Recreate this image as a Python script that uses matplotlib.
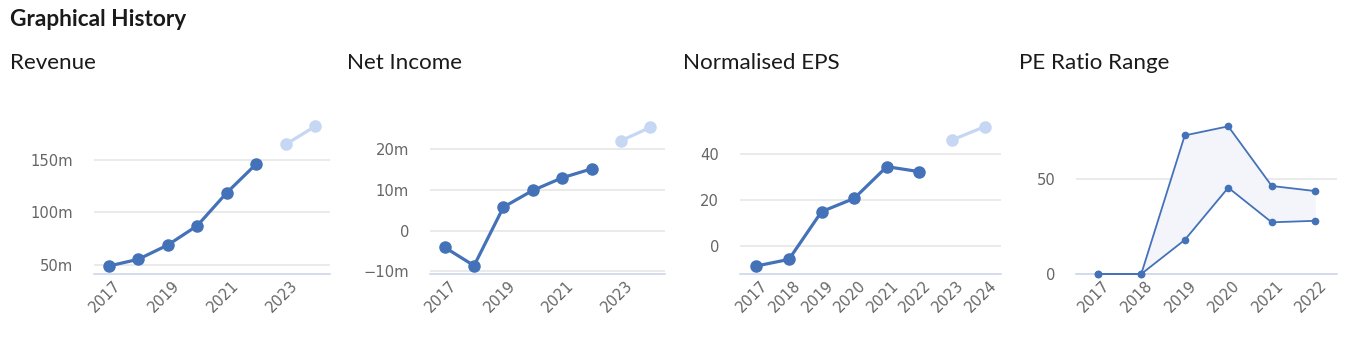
import matplotlib
matplotlib.use("Agg")
import matplotlib.pyplot as plt
from matplotlib.ticker import FuncFormatter
import matplotlib.transforms as mtransforms

# ---------------- data ----------------
years = [2017, 2018, 2019, 2020, 2021, 2022, 2023, 2024]
actual_years = [2017, 2018, 2019, 2020, 2021, 2022]
forecast_years = [2023, 2024]

revenue_actual = [49.0, 55.4, 69.0, 87.4, 118.8, 146.2]
revenue_forecast = [164.9, 182.1]

netincome_actual = [-4.1, -8.6, 5.8, 9.9, 13.0, 15.2]
netincome_forecast = [22.1, 25.4]

eps_actual = [-8.9, -6.0, 14.9, 20.7, 34.6, 32.4]
eps_forecast = [46.3, 52.1]

pe_years = [2017, 2018, 2019, 2020, 2021, 2022]
pe_high = [0.0, 0.0, 73.2, 78.0, 46.5, 43.8]
pe_low = [0.0, 0.0, 18.0, 45.6, 27.3, 28.1]

# ---------------- style ----------------
W, H = 1351, 343
DPI = 100
BLUE = "#4472b8"
LIGHT = "#c6d7f4"
GRID = "#e6e6e6"
AXIS = "#ccd6eb"
TICK = "#666666"
FILL = "#f3f5fb"
TITLE_FONT = ["Lato", "DejaVu Sans"]
TICK_FONT = ["DejaVu Sans"]
TICK_SIZE = 10.6

fig = plt.figure(figsize=(W / DPI, H / DPI), dpi=DPI)
fig.patch.set_facecolor("white")


def px_axes(x0, x1, y0, y1):
    return fig.add_axes([x0 / W, 1 - y1 / H, (x1 - x0) / W, (y1 - y0) / H])


def style(ax, cats, label_every, yticks, ylim, fmt):
    n = len(cats)
    ax.set_xlim(-0.5, n - 0.5)
    ax.set_ylim(*ylim)
    for s in ["top", "right", "left"]:
        ax.spines[s].set_visible(False)
    ax.spines["bottom"].set_color(AXIS)
    ax.spines["bottom"].set_linewidth(1.2)
    ax.set_yticks(yticks)
    ax.yaxis.set_major_formatter(FuncFormatter(fmt))
    ax.tick_params(axis="y", length=0, pad=15, labelsize=TICK_SIZE, labelcolor=TICK)
    for yv in yticks:
        ax.axhline(yv, color=GRID, lw=1.2, zorder=0)
    idx = list(range(0, n, label_every))
    ax.set_xticks(idx)
    ax.set_xticklabels([str(cats[i]) for i in idx])
    ax.tick_params(axis="x", length=0, pad=3, labelsize=TICK_SIZE, labelcolor=TICK)
    offset = mtransforms.ScaledTranslation(3 / 72, 0, fig.dpi_scale_trans)
    for lab in ax.get_xticklabels():
        lab.set_rotation(45)
        lab.set_ha("right")
        lab.set_va("top")
        lab.set_rotation_mode("anchor")
        lab.set_fontfamily(TICK_FONT)
        lab.set_transform(lab.get_transform() + offset)
    for lab in ax.get_yticklabels():
        lab.set_fontfamily(TICK_FONT)
    ax.set_facecolor("white")


def mfmt(v, pos):
    if abs(v) < 1e-9:
        return "0"
    s = f"{int(round(v))}m"
    return s.replace("-", "\u2212")


def pfmt(v, pos):
    return f"{int(round(v))}".replace("-", "\u2212")


fig.text(10 / W, 1 - 20 / H, "Graphical History", fontsize=16.3, fontweight="bold",
         family=TITLE_FONT, color="#1a1a1a", va="center", ha="left")

titles = [(10, "Revenue"), (347, "Net Income"), (683, "Normalised EPS"), (1019, "PE Ratio Range")]
for x, t in titles:
    fig.text(x / W, 1 - 63 / H, t, fontsize=16.1, family=TITLE_FONT, color="#1a1a1a",
             va="center", ha="left")

pos_actual = [years.index(y) for y in actual_years]
pos_fc = [years.index(y) for y in forecast_years]

panels = [
    ((94, 330), revenue_actual, revenue_forecast, 2, [50, 100, 150], (41.4, 190), mfmt),
    ((430, 665), netincome_actual, netincome_forecast, 2, [-10, 0, 10, 20], (-10.65, 27.7), mfmt),
    ((740, 1001), eps_actual, eps_forecast, 1, [0, 20, 40], (-12.4, 55.9), pfmt),
]
for (x0, x1), act, fc, every, yt, yl, fmt in panels:
    ax = px_axes(x0, x1, 118, 274)
    style(ax, years, every, yt, yl, fmt)
    ax.plot(pos_fc, fc, color=LIGHT, lw=2.3, marker="o", ms=8, zorder=3, clip_on=False)
    ax.plot(pos_actual, act, color=BLUE, lw=2.3, marker="o", ms=8, zorder=4, clip_on=False)

# PE ratio range
ax = px_axes(1076, 1337, 118, 274)
style(ax, pe_years, 1, [0, 50], (0, 82.4), pfmt)
xp = list(range(len(pe_years)))
ax.fill_between(xp, pe_low, pe_high, color=FILL, zorder=1, lw=0)
ax.plot(xp, pe_high, color=BLUE, lw=1.3, marker="o", ms=4.5, zorder=4, clip_on=False)
ax.plot(xp, pe_low, color=BLUE, lw=1.3, marker="o", ms=4.5, zorder=4, clip_on=False)

fig.savefig("out.png", dpi=DPI, facecolor="white")
